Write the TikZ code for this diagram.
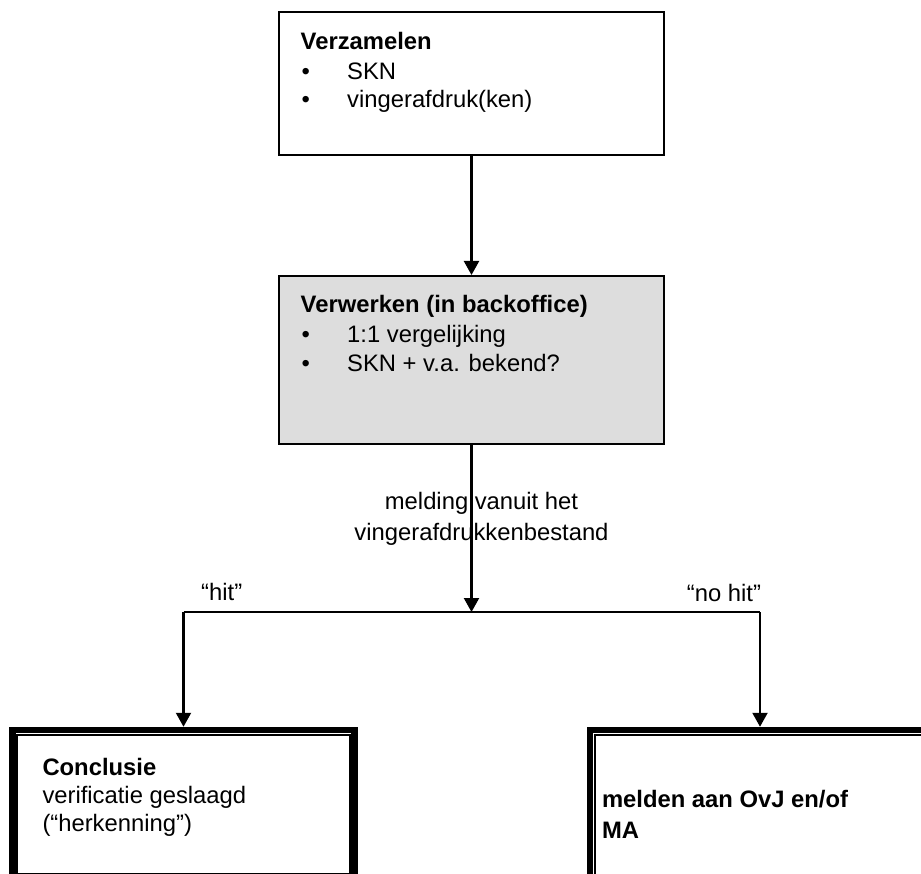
\documentclass[tikz,border=0pt]{standalone}
\usepackage{fontspec}
\setmainfont{Liberation Sans}
\usetikzlibrary{arrows.meta}
\definecolor{boxgray}{RGB}{221,221,221}
\tikzset{
  box/.style={draw=black, line width=2pt, rectangle, inner sep=0pt},
  finalbox/.style={draw=black, line width=6.5pt, rectangle, inner sep=0pt},
  innerline/.style={draw=black, line width=1.8pt},
  txt/.style={inner sep=0pt, anchor=base west, font=\fontsize{23.8}{28.5}\selectfont},
  lbl/.style={inner sep=0pt, anchor=base, font=\fontsize{23.8}{28.5}\selectfont},
  arr/.style={draw=black, line width=2.2pt, -{Triangle[width=15pt,length=14pt]}},
  ln/.style={draw=black, line width=2pt},
}
\begin{document}
\begin{tikzpicture}[x=1pt, y=-1pt]
\useasboundingbox (0,0) rectangle (921,874);
\clip (0,0) rectangle (921,874);
% boxes
\node[box, minimum width=385pt, minimum height=143pt] (top) at (471.5,83.5) {};
\node[box, fill=boxgray, minimum width=385pt, minimum height=168pt] (gray) at (471.5,360) {};
\node[finalbox, minimum width=342pt, minimum height=160pt] (hitbox) at (183.5,810) {};
\node[finalbox, minimum width=340pt, minimum height=160pt] (nohitbox) at (760,810) {};
\draw[innerline] ([xshift=7.5pt,yshift=-8pt]hitbox.north west) rectangle ([xshift=-7.5pt,yshift=19pt]hitbox.south east);
\draw[innerline] ([xshift=8pt,yshift=-8pt]nohitbox.north west) rectangle ([xshift=-7.5pt,yshift=18pt]nohitbox.south east);
% texts top box
\node[txt] (t1) at (300.5,50) {\bfseries Verzamelen};
\node[txt] (b1) at (301.5,79.3) {•};
\node[txt] (t2) at (347,79.3) {SKN};
\node[txt] (b2) at (301.5,107.5) {•};
\node[txt] (t3) at (347,107.5) {vingerafdruk(ken)};
% texts gray box
\node[txt] (g1) at (300.5,313) {\bfseries Verwerken (in backoffice)};
\node[txt] (gb1) at (301.5,342.5) {•};
\node[txt] (g2) at (347,342.5) {1:1 vergelijking};
\node[txt] (gb2) at (301.5,371.5) {•};
\node[txt] (g3) at (347,371.5) {SKN + v.a. bekend?};
% label
\node[lbl] (m1) at (481.5,509) {melding vanuit het};
\node[lbl] (m2) at (481.5,540) {vingerafdrukkenbestand};
\node[lbl] (hitlbl) at (221.7,600.7) {“hit”};
\node[lbl] (nohitlbl) at (724,601.5) {“no hit”};
% bottom box texts
\node[txt] (c1) at (42.3,775) {\bfseries Conclusie};
\node[txt] (c2) at (42.3,803.3) {verificatie geslaagd};
\node[txt] (c3) at (42.3,831) {(“herkenning”)};
\node[txt] (n1) at (601.8,807.3) {\bfseries melden aan OvJ en/of};
\node[txt] (n2) at (601.8,838.3) {\bfseries MA};
% connectors
\coordinate (j) at (471.5,612);
\coordinate (jl) at (183.5,612);
\coordinate (jr) at (760,612);
\draw[arr] (top.south) -- (gray.north);
\draw[arr] (gray.south) -- (j);
\draw[ln] (jl) -- (jr);
\draw[arr] (jl) -- (hitbox.north);
\draw[arr] (jr) -- (nohitbox.north);
\end{tikzpicture}
\end{document}
